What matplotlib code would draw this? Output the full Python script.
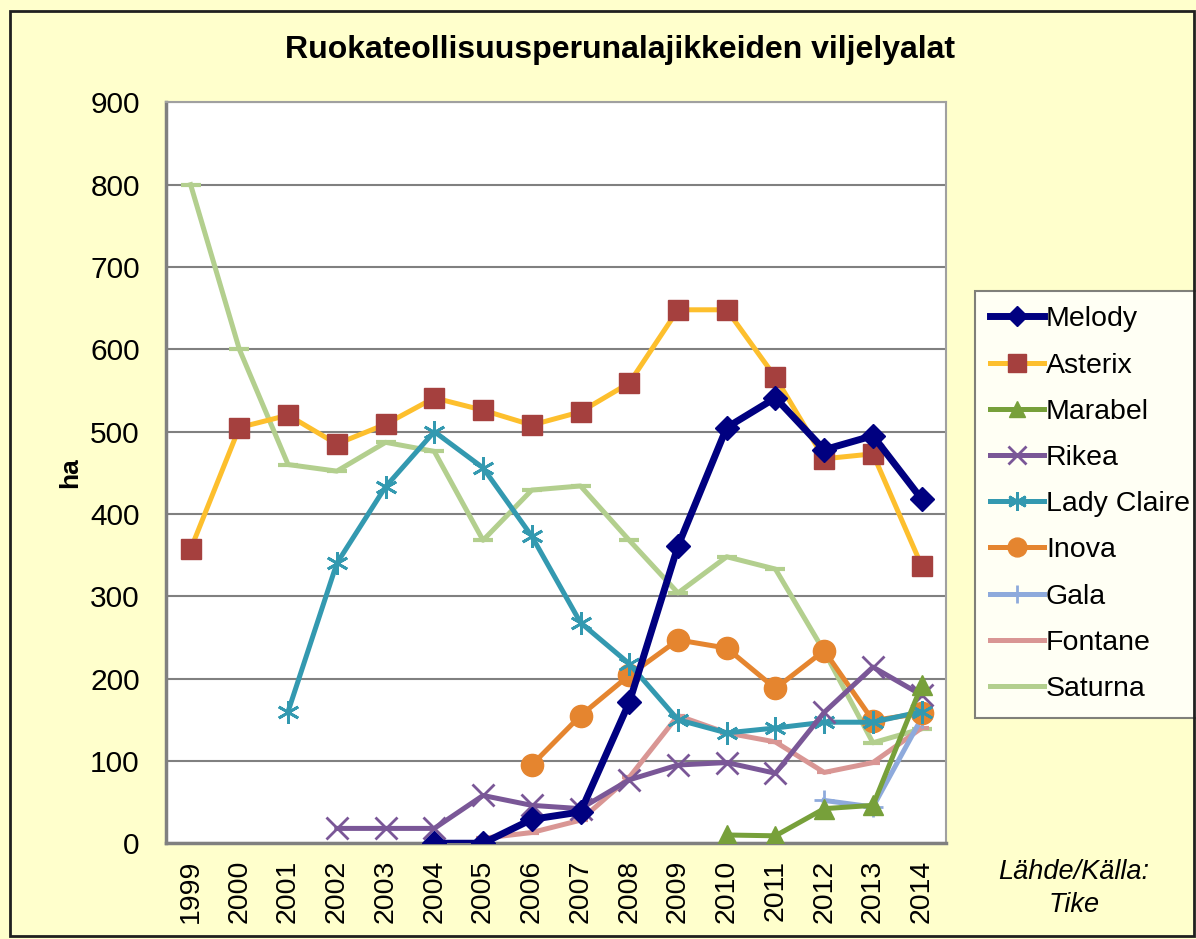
import numpy as np
import matplotlib
matplotlib.use("Agg")
import matplotlib.pyplot as plt

plt.rcParams['font.family'] = ['Liberation Sans', 'DejaVu Sans']

years = list(range(1999, 2015))
nan = np.nan

# values in ha (nan = no data)
melody = [nan, nan, nan, nan, nan, 0, 0, 29, 38, 171, 361, 505, 541, 478, 495, 418]
asterix = [357, 505, 520, 485, 509, 541, 526, 508, 524, 559, 648, 648, 566, 467, 473, 337]
marabel = [nan, nan, nan, nan, nan, nan, nan, nan, nan, nan, nan, 10, 9, 42, 46, 192]
rikea = [nan, nan, nan, 18, 18, 18, 58, 46, 42, 77, 95, 98, 85, 159, 214, 180]
lady_claire = [nan, nan, 160, 340, 433, 500, 456, 373, 268, 218, 150, 134, 140, 147, 147, 160]
inova = [nan, nan, nan, nan, nan, nan, nan, 95, 155, 204, 247, 237, 188, 234, 149, 158]
gala = [nan, nan, nan, nan, nan, nan, nan, nan, nan, nan, nan, nan, nan, 52, 44, 152]
fontane = [nan, nan, nan, nan, nan, nan, 6, 13, 28, 80, 155, 134, 123, 86, 98, 140]
saturna = [800, 600, 460, 452, 487, 476, 368, 429, 434, 368, 304, 348, 333, 233, 122, 139]

bg = '#FFFFCC'
fig = plt.figure(figsize=(11.96, 9.39), dpi=100, facecolor=bg)
ax = fig.add_axes([0.139, 0.102, 0.652, 0.789])
ax.set_facecolor('white')

x = np.arange(len(years))
ax.plot(x, melody, color='#000080', lw=5, marker='D', ms=12, label='Melody', zorder=10)
ax.plot(x, asterix, color='#FDBF2D', lw=3.6, marker='s', ms=15, mfc='#A5403E', mec='#A5403E',
        label='Asterix', zorder=9)
ax.plot(x, marabel, color='#77A03A', lw=3.6, marker='^', ms=14, label='Marabel', zorder=8)
ax.plot(x, rikea, color='#7A5797', lw=3.6, marker='x', ms=16, mew=2, label='Rikea', zorder=7)
ax.plot(x, lady_claire, color='#3399B0', lw=3.6, marker=(6, 2, 0), ms=16, mew=2,
        label='Lady Claire', zorder=6)
ax.plot(x, inova, color='#E5852F', lw=3.6, marker='o', ms=16, label='Inova', zorder=5)
ax.plot(x, gala, color='#8EAADC', lw=3.6, marker='+', ms=15, mew=2, label='Gala', zorder=4)
ax.plot(x, fontane, color='#D99694', lw=3.6, marker='_', ms=10, mew=3, label='Fontane', zorder=3)
ax.plot(x, saturna, color='#B3CF8E', lw=3.6, marker='_', ms=15, mew=3, label='Saturna', zorder=2)

ax.set_xlim(-0.5, len(years) - 0.5)
ax.set_ylim(0, 900)
ax.set_yticks(range(0, 901, 100))
ax.set_xticks(x)
ax.set_xticklabels([str(y) for y in years], rotation=90, fontsize=20.5)
ax.tick_params(axis='y', labelsize=21.5, length=0, pad=19)
ax.tick_params(axis='x', length=0, pad=12)
ax.yaxis.grid(True, color='#808080', lw=1.5)
ax.set_axisbelow(True)
for s in ['left', 'bottom']:
    ax.spines[s].set_color('#808080')
    ax.spines[s].set_linewidth(2.5)
for s in ['top', 'right']:
    ax.spines[s].set_color('#A0A0A0')
    ax.spines[s].set_linewidth(1.5)

ax.set_ylabel('ha', fontsize=19, fontweight='bold', labelpad=6)
fig.text(0.518, 0.947, 'Ruokateollisuusperunalajikkeiden viljelyalat', ha='center', va='center',
         fontsize=23, fontweight='bold')
fig.text(0.898, 0.054, 'Lähde/Källa:\nTike', ha='center', va='center', fontsize=19.5,
         style='italic', linespacing=1.35)

leg = ax.legend(loc='center left', fontsize=20.5, frameon=True,
                fancybox=False, edgecolor='#606060', handlelength=1.9, handletextpad=0.05,
                labelspacing=0.71, borderpad=0.55, borderaxespad=0, markerscale=0.85)
leg.get_frame().set_linewidth(1.5)
leg.set_bbox_to_anchor((0.815, 0.463), transform=fig.transFigure)
for line in leg.get_lines()[-2:]:
    line.set_marker('None')

fig.patches.append(plt.Rectangle((0.008, 0.003), 0.99, 0.985, transform=fig.transFigure,
                                 fill=False, edgecolor='#202020', lw=2))
fig.savefig('out.png', dpi=100, facecolor=bg)
